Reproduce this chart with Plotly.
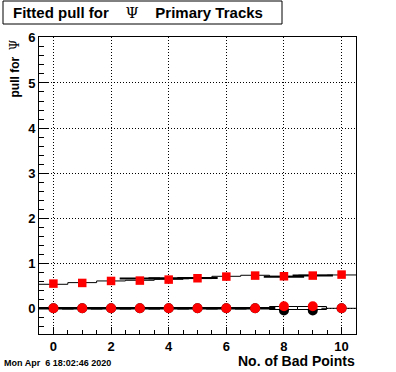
import plotly.graph_objects as go

# ---------------- data ----------------
bad_points = [0, 1, 2, 3, 4, 5, 6, 7, 8, 9, 10]
# red squares: fitted width of pull
width_red = [0.548, 0.563, 0.607, 0.615, 0.637, 0.667, 0.704, 0.726, 0.711, 0.726, 0.748]
# black histogram (step line) of widths
width_black = [0.533, 0.570, 0.607, 0.622, 0.644, 0.660, 0.710, 0.733, 0.710, 0.735, 0.740]
# overlay (thick) black segments
width_black2 = [None, None, None, 0.66, 0.665, 0.675, None, None, 0.70, 0.73, None]
# red circles: fitted mean of pull
mean_red = [0, 0, 0, 0, 0, 0, 0, 0, 0.045, 0.045, 0]
# black circles: mean
mean_black = [0, 0, 0, 0, 0, 0, 0, 0, -0.05, -0.05, 0]
# mean histogram and its error band
mean_hist = [0, 0, 0, 0, 0, 0, 0, 0, 0, 0, 0]
mean_err = [0, 0, 0, 0, 0, 0, 0, 0, 0.03, 0.03, 0]
mean_line_w = [2.5, 2.5, 2.5, 2.5, 2.5, 2.5, 2.5, 2.5, 0, 0, 1]

x_ticks = [0, 2, 4, 6, 8, 10]
y_ticks = [0, 1, 2, 3, 4, 5, 6]

# ---------------- geometry helpers ----------------
W, H = 396, 372
L, R, T, B = 39, 40, 37, 38
PW, PH = W - L - R, H - T - B


def px(x):
    return (x - L) / PW


def py(y):
    return (H - B - y) / PH


def edges(bins):
    return [b - 0.5 for b in bins] + [bins[-1] + 0.5]


fig = go.Figure()

# error band boxes for the mean histogram
band_x = [b for b, e in zip(bad_points, mean_err) if e > 0]
band_base = [h - e for h, e in zip(mean_hist, mean_err) if e > 0]
band_h = [2 * e for e in mean_err if e > 0]
fig.add_trace(go.Bar(x=band_x, y=band_h, base=band_base, width=1,
                     marker=dict(color="white", line=dict(color="black", width=1)),
                     showlegend=False))

# mean histogram line (per-bin segments)
fig.add_trace(go.Scatter(x=bad_points, y=mean_hist, mode="markers",
                         marker=dict(symbol="line-ew", size=PW / 11,
                                     line=dict(color="black", width=mean_line_w)),
                         showlegend=False))

# width histogram step line
ex = edges(bad_points)
fig.add_trace(go.Scatter(x=ex, y=width_black + [width_black[-1]], mode="lines",
                         line=dict(color="black", width=1, shape="hv"),
                         showlegend=False))
fig.add_trace(go.Scatter(x=bad_points, y=width_black2, mode="markers",
                         marker=dict(symbol="line-ew", size=PW / 11,
                                     line=dict(color="black", width=2)),
                         showlegend=False))

# black circles
fig.add_trace(go.Scatter(x=bad_points, y=mean_black, mode="markers",
                         marker=dict(symbol="circle", size=10, color="black"),
                         showlegend=False))
# red circles
fig.add_trace(go.Scatter(x=bad_points, y=mean_red, mode="markers",
                         marker=dict(symbol="circle", size=10, color="#ff0000"),
                         showlegend=False))
# red squares
fig.add_trace(go.Scatter(x=bad_points, y=width_red, mode="markers",
                         marker=dict(symbol="square", size=8.5, color="#ff0000"),
                         showlegend=False))

tickfont = dict(family="Liberation Sans", size=13, color="black", weight="bold")

fig.update_layout(
    width=W, height=H,
    margin=dict(l=L, r=R, t=T, b=B),
    paper_bgcolor="white", plot_bgcolor="white",
    showlegend=False,
    bargap=0,
    xaxis=dict(range=[-0.5, 10.5], tickmode="array", tickvals=x_ticks,
               ticktext=[str(v) for v in x_ticks],
               ticks="inside", ticklen=7, tickcolor="black", tickwidth=1,
               showline=True, linecolor="black", linewidth=1, mirror=True,
               showgrid=True, gridcolor="black", griddash="1px,2px", gridwidth=1,
               zeroline=False, tickfont=tickfont,
               minor=dict(dtick=0.5, tick0=0, ticks="inside", ticklen=4,
                          tickcolor="black", showgrid=False)),
    yaxis=dict(range=[-0.57, 6.02], tickmode="array", tickvals=y_ticks,
               ticktext=[str(v) for v in y_ticks],
               ticks="inside", ticklen=10, tickcolor="black", tickwidth=1,
               showline=True, linecolor="black", linewidth=1, mirror=True,
               showgrid=True, gridcolor="black", griddash="1px,2px", gridwidth=1,
               zeroline=False, tickfont=tickfont,
               minor=dict(dtick=0.2, tick0=0, ticks="inside", ticklen=5,
                          tickcolor="black", showgrid=False)),
)

# title box
fig.add_shape(type="rect", xref="paper", yref="paper",
              x0=px(3), x1=px(282), y0=py(24), y1=py(1),
              line=dict(color="black", width=1), fillcolor="white")
fig.add_annotation(xref="paper", yref="paper", x=px(11), y=py(12.5),
                   xanchor="left", yanchor="middle", showarrow=False,
                   text="<b>Fitted pull for</b>    <span style='font-weight:normal;font-family:DejaVu Serif'>Ψ</span>    <b>Primary Tracks</b>",
                   font=dict(family="Liberation Sans", size=15, color="black"))
# y title
fig.add_annotation(xref="paper", yref="paper", x=px(14), y=py(68.5),
                   xanchor="center", yanchor="middle", showarrow=False,
                   textangle=-90,
                   text="<b>pull for</b>  <span style='font-weight:normal;font-family:DejaVu Serif'>Ψ</span>",
                   font=dict(family="Liberation Sans", size=12, color="black"))
# x title
fig.add_annotation(xref="paper", yref="paper", x=px(357), y=py(361),
                   xanchor="right", yanchor="middle", showarrow=False,
                   text="<b>No. of Bad Points</b>",
                   font=dict(family="Liberation Sans", size=14, color="black"))
# date stamp
fig.add_annotation(xref="paper", yref="paper", x=px(2), y=py(363),
                   xanchor="left", yanchor="middle", showarrow=False,
                   text="<b>Mon Apr  6 18:02:46 2020</b>",
                   font=dict(family="Liberation Sans", size=9, color="black"))

fig.write_html("out.html", config={"displayModeBar": False},
               post_script="document.body.style.margin='0';document.body.style.overflow='hidden';")
